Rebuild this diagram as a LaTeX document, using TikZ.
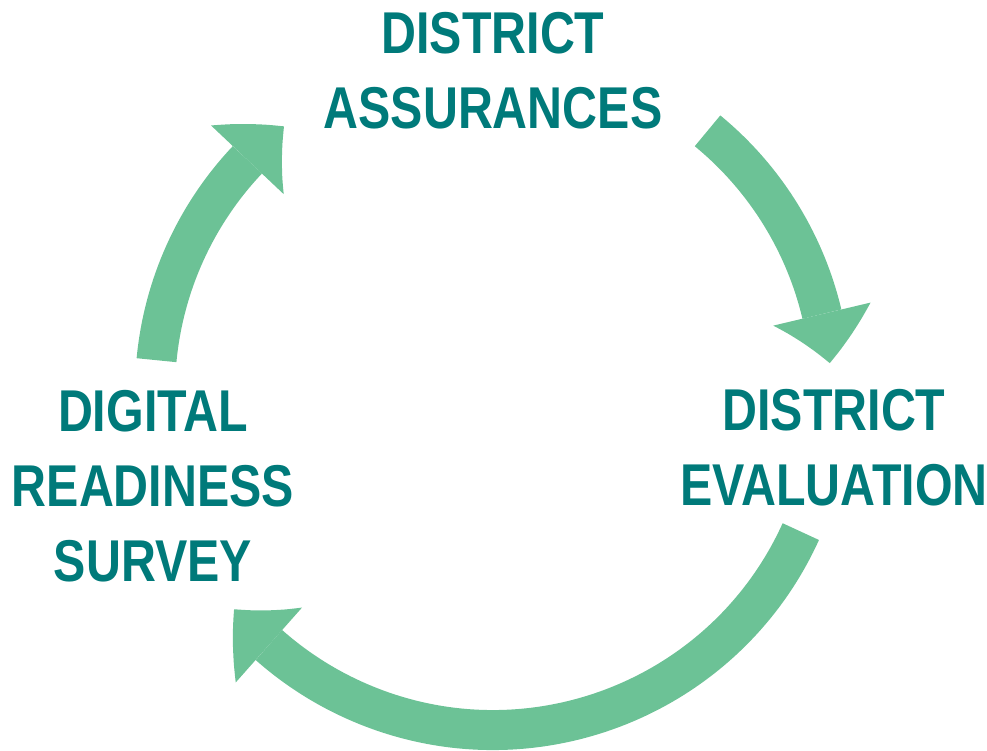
\documentclass[tikz,border=0pt]{standalone}
\usepackage{fontspec}
\newfontfamily\lblfont{Liberation Sans}[FakeStretch=0.82]
\usetikzlibrary{arrows.meta,bending}
\definecolor{lbltxt}{RGB}{0,122,122}
\definecolor{arrgreen}{RGB}{108,194,150}
\begin{document}
\begin{tikzpicture}[x=1pt,y=1pt,
  lbl/.style={font=\lblfont\bfseries\fontsize{59}{75}\selectfont, text=lbltxt, align=center, inner sep=0pt},
  cyc/.style={draw=arrgreen, line width=40pt, -{Triangle[length=50pt,width=100pt,line width=0pt,bend]}}]
\useasboundingbox (0,0) rectangle (987,751);
\node[lbl] (assur) at (493,680) {DISTRICT\\ASSURANCES};
\node[lbl] (eval) at (834,303) {DISTRICT\\EVALUATION};
\node[lbl] (survey) at (153,265) {DIGITAL\\READINESS\\SURVEY};
\coordinate (ctr) at (493,359);
\coordinate (a1s) at ([shift={(174.6:338)}]ctr);
\coordinate (a2s) at ([shift={(50.6:338)}]ctr);
\coordinate (a3s) at ([shift={(-24.4:338)}]ctr);
\draw[cyc] (a1s) arc[start angle=174.6, end angle=128.2, radius=338];
\draw[cyc] (a2s) arc[start angle=50.6, end angle=4.9, radius=338];
\draw[cyc] (a3s) arc[start angle=-24.4, end angle=-140, radius=338];
\end{tikzpicture}
\end{document}
